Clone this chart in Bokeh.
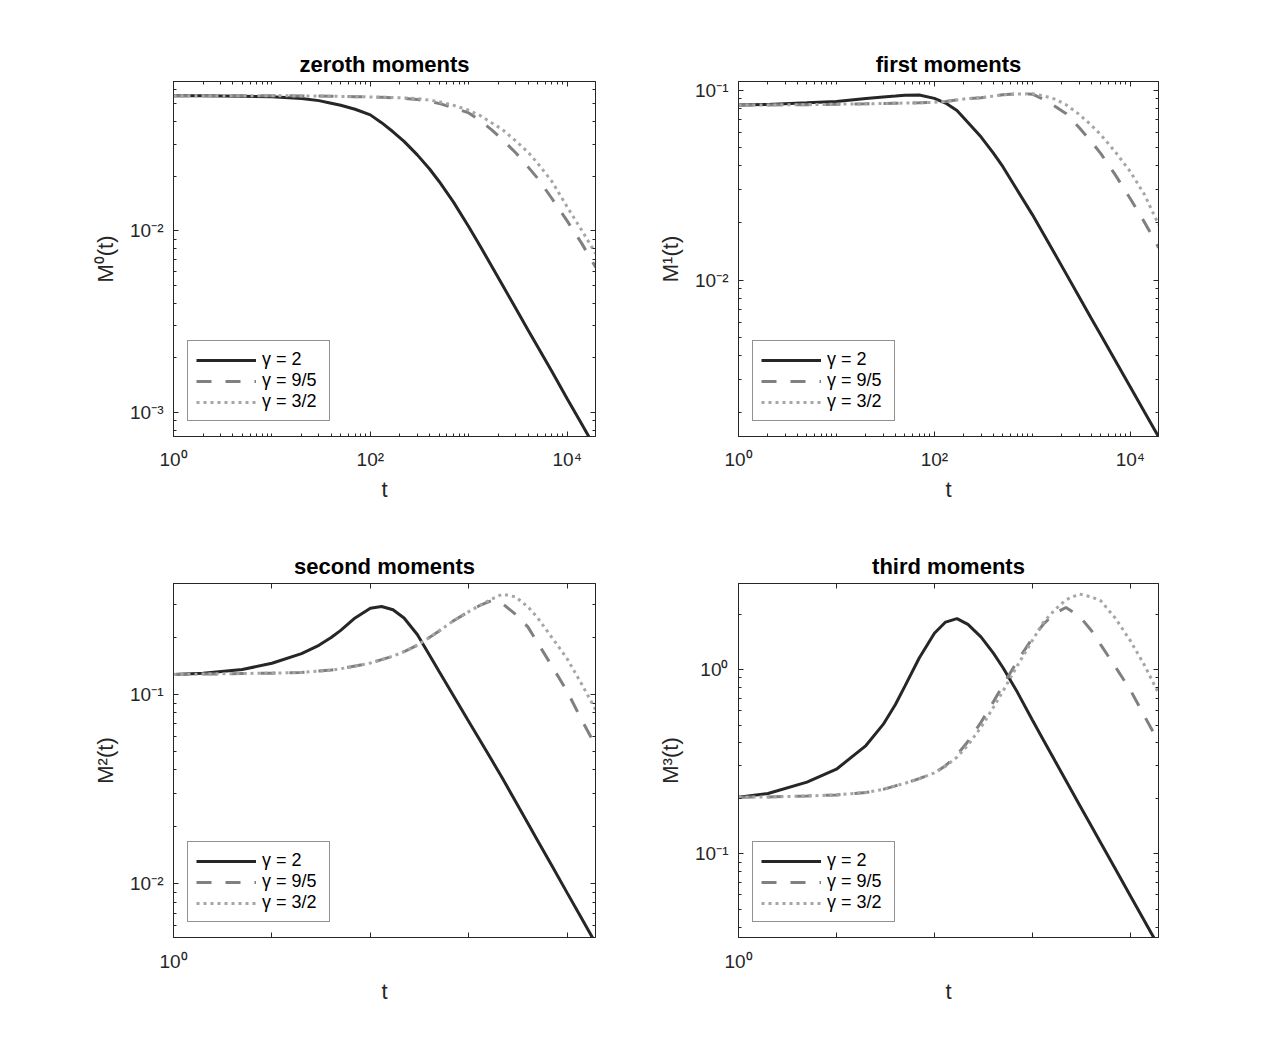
import math
from bokeh.plotting import figure
from bokeh.models import Range1d, FixedTicker, LogAxis
from bokeh.layouts import column, row
from bokeh.embed import file_html
from bokeh.resources import INLINE

# ---------------- data ----------------
t = [1, 2, 5, 10, 20, 30, 40, 50, 70, 100, 130, 170, 220, 300, 400, 500, 700,
     1000, 1300, 1700, 2200, 3000, 4000, 5000, 7000, 10000, 14000, 19500]

m0_g2 = [0.0555, 0.0554, 0.0551, 0.0547, 0.0535, 0.0521, 0.0504, 0.0491, 0.0467, 0.0435,
         0.0394, 0.0351, 0.0311, 0.0262, 0.0219, 0.0187, 0.0144, 0.01054, 0.00828, 0.00643,
         0.00504, 0.00375, 0.00285, 0.00231, 0.00168, 0.00119, 0.000867, 0.000632]
m0_g95 = [0.0555, 0.0555, 0.0555, 0.0554, 0.0553, 0.0552, 0.0551, 0.0550, 0.0548, 0.0545,
          0.0543, 0.0540, 0.0536, 0.0528, 0.0516, 0.0503, 0.0475, 0.0446, 0.0405, 0.0361,
          0.0318, 0.0269, 0.0225, 0.0195, 0.01507, 0.01135, 0.00856, 0.0063]
m0_g32 = [0.0555, 0.0555, 0.0555, 0.0554, 0.0553, 0.0552, 0.0551, 0.0550, 0.0548, 0.0546,
          0.0544, 0.0542, 0.0539, 0.0535, 0.0524, 0.0514, 0.0491, 0.0461, 0.0432, 0.0394,
          0.0361, 0.0313, 0.0271, 0.0236, 0.0187, 0.01355, 0.0101, 0.0075]

m1_g2 = [0.0834, 0.0841, 0.0857, 0.0871, 0.0902, 0.0920, 0.0931, 0.0940, 0.0942, 0.0905,
         0.0855, 0.0780, 0.0675, 0.0566, 0.0466, 0.0395, 0.0298, 0.0221, 0.01746, 0.0137,
         0.01084, 0.00817, 0.00628, 0.00513, 0.00378, 0.00273, 0.00201, 0.00149]
m1_g95 = [0.0834, 0.0835, 0.0838, 0.0843, 0.0847, 0.0850, 0.0853, 0.0855, 0.0858, 0.0862,
          0.0872, 0.0888, 0.0903, 0.0912, 0.0930, 0.0945, 0.0955, 0.0952, 0.0895, 0.0822,
          0.0754, 0.0635, 0.0535, 0.0463, 0.0359, 0.0268, 0.0201, 0.0148]
m1_g32 = [0.0834, 0.0835, 0.0838, 0.0843, 0.0847, 0.0850, 0.0853, 0.0855, 0.0858, 0.0862,
          0.0872, 0.0888, 0.0903, 0.0912, 0.0930, 0.0945, 0.0953, 0.0957, 0.0933, 0.0897,
          0.0839, 0.0746, 0.0653, 0.0582, 0.0474, 0.0372, 0.0281, 0.0195]

m2_g2 = [0.1276, 0.1294, 0.1355, 0.1462, 0.1644, 0.182, 0.200, 0.2183, 0.254, 0.2858,
         0.2917, 0.2805, 0.2535, 0.2075, 0.1614, 0.1324, 0.0986, 0.0721, 0.0573, 0.0453,
         0.0361, 0.0271, 0.0208, 0.01694, 0.01245, 0.00895, 0.00658, 0.00484]
m2_g95 = [0.1276, 0.1282, 0.1291, 0.1297, 0.1309, 0.133, 0.1346, 0.1368, 0.1413, 0.1466,
          0.1528, 0.1596, 0.1683, 0.1824, 0.2004, 0.2168, 0.2455, 0.274, 0.296, 0.313,
          0.302, 0.265, 0.227, 0.188, 0.1413, 0.104, 0.0736, 0.0535]
m2_g32 = [0.1276, 0.1282, 0.1291, 0.1297, 0.1309, 0.133, 0.1346, 0.1368, 0.1413, 0.1466,
          0.1528, 0.1596, 0.1683, 0.1824, 0.2004, 0.2168, 0.2455, 0.274, 0.296, 0.319,
          0.339, 0.328, 0.29, 0.2546, 0.2, 0.1545, 0.1138, 0.083]

m3_g2 = [0.203, 0.2128, 0.245, 0.288, 0.387, 0.504, 0.646, 0.813, 1.156, 1.574,
         1.81, 1.89, 1.76, 1.50, 1.227, 1.026, 0.757, 0.533, 0.414, 0.32,
         0.250, 0.186, 0.1416, 0.1146, 0.0834, 0.0593, 0.0431, 0.0315]
m3_g95 = [0.203, 0.2037, 0.206, 0.209, 0.2153, 0.224, 0.234, 0.2415, 0.256, 0.275,
          0.301, 0.344, 0.407, 0.519, 0.668, 0.82, 1.11, 1.476, 1.766, 2.02,
          2.17, 1.96, 1.63, 1.36, 1.039, 0.775, 0.557, 0.404]
m3_g32 = [0.203, 0.2037, 0.206, 0.209, 0.2153, 0.224, 0.234, 0.2415, 0.256, 0.275,
          0.299, 0.335, 0.389, 0.488, 0.624, 0.762, 1.047, 1.44, 1.81, 2.11,
          2.39, 2.57, 2.48, 2.36, 1.905, 1.435, 1.052, 0.741]

legend_labels = ["γ = 2", "γ = 9/5", "γ = 3/2"]
titles = ["zeroth moments", "first moments", "second moments", "third moments"]
ylabels = ["M⁰(t)", "M¹(t)", "M²(t)", "M³(t)"]

x_lim = (1, 19400)
y_lims = [(7.38e-4, 0.0664), (1.50e-3, 0.111), (5.2e-3, 0.386), (0.0352, 2.93)]
y_majors = [[1e-3, 1e-2], [1e-2, 1e-1], [1e-2, 1e-1], [1e-1, 1.0]]
x_majors_top = [1, 100, 10000]
x_majors_bottom = [1, 10, 100, 1000, 10000]

# ---------------- styling ----------------
FONT = "Liberation Sans"
INK = "#262626"
STYLES = [dict(line_color="#262626", line_width=3),
          dict(line_color="#808080", line_width=3, line_dash="15 14"),
          dict(line_color="#a6a6a6", line_width=3, line_dash="3 4")]
SUP = str.maketrans("0123456789-", "⁰¹²³⁴⁵⁶⁷⁸⁹⁻")


def pow10_label(v):
    return "10" + str(int(round(math.log10(v)))).translate(SUP)


def minor_ticks(lo, hi):
    out = []
    e = math.floor(math.log10(lo)) - 1
    while 10.0 ** e <= hi * 10:
        for k in range(1, 10):
            v = float(f"{k}e{e}")
            if lo <= v <= hi:
                out.append(v)
        e += 1
    return out


def style_axis(ax, label_size="19px", standoff=10):
    ax.axis_line_color = INK
    ax.major_tick_line_color = INK
    ax.minor_tick_line_color = INK
    ax.major_tick_in = 5
    ax.major_tick_out = 0
    ax.minor_tick_in = 3
    ax.minor_tick_out = 0
    ax.major_label_text_font = FONT
    ax.major_label_text_color = INK
    ax.major_label_text_font_size = label_size
    ax.major_label_standoff = standoff
    ax.axis_label_text_font = FONT
    ax.axis_label_text_font_style = "normal"
    ax.axis_label_text_font_size = "22px"
    ax.axis_label_text_color = INK


def panel(i, series, width, height, borders, bottom_row):
    bl, br, bt, bb = borders
    p = figure(width=width, height=height, x_axis_type="log", y_axis_type="log",
               x_range=Range1d(*x_lim), y_range=Range1d(*y_lims[i]),
               output_backend="svg", toolbar_location=None,
               min_border_left=bl, min_border_right=br,
               min_border_top=bt, min_border_bottom=bb)
    p.title.text = titles[i]
    p.title.align = "center"
    p.title.text_font = FONT
    p.title.text_font_size = "22px"
    p.title.text_font_style = "bold"
    p.title.text_color = "black"
    p.title.standoff = 10
    p.xgrid.visible = False
    p.ygrid.visible = False
    p.outline_line_color = INK
    p.background_fill_color = "white"
    p.border_fill_color = "white"

    lo, hi = y_lims[i]
    ymin = [v for v in minor_ticks(lo, hi) if v not in y_majors[i]]
    if bottom_row:
        xt_major = x_majors_bottom
        xt_minor = []
        x_over = {v: (pow10_label(v) if v == 1 else "") for v in xt_major}
    else:
        xt_major = x_majors_top
        xt_minor = [v for v in minor_ticks(*x_lim) if v not in xt_major]
        x_over = {v: pow10_label(v) for v in xt_major}
    y_over = {v: pow10_label(v) for v in y_majors[i]}

    xa = p.xaxis[0]
    xa.ticker = FixedTicker(ticks=xt_major, minor_ticks=xt_minor)
    xa.major_label_overrides = x_over
    style_axis(xa, standoff=(13 if bottom_row else 12))
    xa.axis_label = "t"
    xa.axis_label_standoff = 4

    ya = p.yaxis[0]
    ya.ticker = FixedTicker(ticks=y_majors[i], minor_ticks=ymin)
    ya.major_label_overrides = y_over
    style_axis(ya, standoff=10)
    ya.axis_label = ylabels[i]
    ya.axis_label_standoff = 9

    top = LogAxis(ticker=FixedTicker(ticks=xt_major, minor_ticks=xt_minor),
                  major_label_overrides={v: "" for v in xt_major})
    style_axis(top, label_size="0px", standoff=0)
    p.add_layout(top, "above")
    right = LogAxis(ticker=FixedTicker(ticks=y_majors[i], minor_ticks=ymin),
                    major_label_overrides={v: "" for v in y_majors[i]})
    style_axis(right, label_size="0px", standoff=0)
    p.add_layout(right, "right")

    for vals, lab, st in zip(series, legend_labels, STYLES):
        p.line(t, vals, legend_label=lab, **st)

    lg = p.legend[0]
    lg.location = (14, 15)
    lg.margin = 0
    lg.padding = 8
    lg.spacing = 0
    lg.glyph_width = 60
    lg.glyph_height = 20
    lg.label_height = 20
    lg.label_width = 59
    lg.label_standoff = 6
    lg.label_text_font = FONT
    lg.label_text_font_size = "18px"
    lg.label_text_color = "black"
    lg.border_line_color = INK
    lg.border_line_width = 1
    lg.background_fill_color = "white"
    lg.background_fill_alpha = 1.0
    return p


p1 = panel(0, [m0_g2, m0_g95, m0_g32], 648, 510, (173, 53, 81, 74), False)
p2 = panel(1, [m1_g2, m1_g95, m1_g32], 624, 510, (90, 114, 81, 74), False)
p3 = panel(2, [m2_g2, m2_g95, m2_g32], 648, 542, (173, 53, 73, 115), True)
p4 = panel(3, [m3_g2, m3_g95, m3_g32], 624, 542, (90, 114, 73, 115), True)

layout = column(row(p1, p2), row(p3, p4))
open("out.html", "w").write(file_html(layout, INLINE))
